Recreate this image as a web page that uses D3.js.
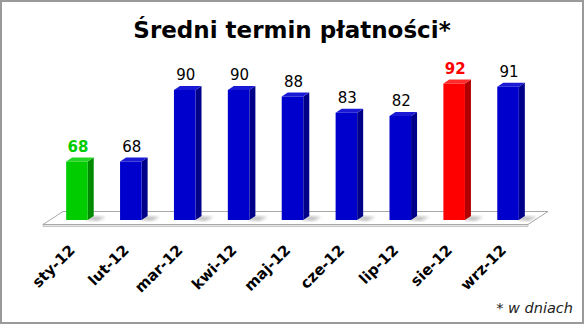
<!DOCTYPE html>
<html>
<head>
<meta charset="utf-8">
<script src="https://cdn.jsdelivr.net/npm/d3@7"></script>
<style>
  body { margin: 0; background: #fff; }
  svg { display: block; font-family: "DejaVu Sans", Verdana, sans-serif; }
</style>
</head>
<body>
<script>
const months = ["sty-12", "lut-12", "mar-12", "kwi-12", "maj-12", "cze-12", "lip-12", "sie-12", "wrz-12"];
const days = [68, 68, 90, 90, 88, 83, 82, 92, 91];
// which bar is highlighted: "min", "max" or plain
const highlight = ["min", "", "", "", "", "", "", "max", ""];

const width = 585, height = 325;
const depth = {x: 6, y: -4};          // bar depth offset
const floorFront = {x: -7, y: 4.5}, floorBack = {x: 13, y: -8.5};

const palette = {
  "":   {front: "#0000cc", side: "#000088", top: "#1a1ad6", label: "#000", weight: "normal"},
  min:  {front: "#00cc00", side: "#008a00", top: "#22d622", label: "#00cc00", weight: "bold"},
  max:  {front: "#ff0000", side: "#b00000", top: "#ff2a2a", label: "#ff0000", weight: "bold"}
};

const svg = d3.select("body").append("svg").attr("width", width).attr("height", height);

svg.append("rect").attr("x", 1).attr("y", 1).attr("width", width - 3).attr("height", height - 3)
  .attr("fill", "#fff").attr("stroke", "#9a9a9a").attr("stroke-width", 2);

const defs = svg.append("defs");
defs.append("filter").attr("id", "blur").append("feGaussianBlur").attr("stdDeviation", 1.6);

svg.append("text").attr("x", 292).attr("y", 38).attr("text-anchor", "middle")
  .attr("font-size", 23).attr("font-weight", "bold").text("Średni termin płatności*");

const x = d3.scaleBand().domain(months).range([50, 535]).paddingInner(0.6).paddingOuter(0.3);
const y = d3.scaleLinear().domain([50, 100]).range([220, 57.5]);

const r0 = x.range()[0], r1 = x.range()[1], base = y(50);

// floor slab
const floor = [[r0 + floorFront.x, base + floorFront.y], [r1 + floorFront.x, base + floorFront.y],
               [r1 + floorBack.x, base + floorBack.y], [r0 + floorBack.x, base + floorBack.y]];
svg.append("rect").attr("x", r0 + floorFront.x).attr("y", base + floorFront.y)
  .attr("width", r1 - r0).attr("height", 2).attr("fill", "#e6e6e6").attr("stroke", "#a8a8a8").attr("stroke-width", 0.6);
svg.append("polygon").attr("points", floor.map(p => p.join(",")).join(" "))
  .attr("fill", "#fff").attr("stroke", "#a8a8a8").attr("stroke-width", 1);

const bw = x.bandwidth();

// shadows on the floor
svg.append("g").selectAll("polygon").data(months).join("polygon")
  .attr("points", m => {
    const x0 = x(m) + bw, b = base;
    return [[x0 - 2, b], [x0 + depth.x - 1, b + depth.y], [x0 + depth.x + 12, b + depth.y + 1], [x0 + 10, b + 1]]
      .map(p => p.join(",")).join(" ");
  })
  .attr("fill", "#8c8c8c").attr("opacity", 0.55).attr("filter", "url(#blur)");

const bars = svg.append("g").selectAll("g").data(months).join("g");

bars.append("polygon").attr("points", (m, i) => {
    const x1 = x(m) + bw, t = y(days[i]);
    return [[x1, t], [x1 + depth.x, t + depth.y], [x1 + depth.x, base + depth.y], [x1, base]].map(p => p.join(",")).join(" ");
  })
  .attr("fill", (m, i) => palette[highlight[i]].side);

bars.append("polygon").attr("points", (m, i) => {
    const x0 = x(m), t = y(days[i]);
    return [[x0, t], [x0 + bw, t], [x0 + bw + depth.x, t + depth.y], [x0 + depth.x, t + depth.y]].map(p => p.join(",")).join(" ");
  })
  .attr("fill", (m, i) => palette[highlight[i]].top);

bars.append("rect")
  .attr("x", m => x(m)).attr("y", (m, i) => y(days[i]))
  .attr("width", bw).attr("height", (m, i) => base - y(days[i]))
  .attr("fill", (m, i) => palette[highlight[i]].front);

bars.append("text")
  .attr("x", m => x(m) + bw / 2 + 1).attr("y", (m, i) => y(days[i]) - 10)
  .attr("text-anchor", "middle").attr("font-size", 15)
  .attr("font-weight", (m, i) => palette[highlight[i]].weight)
  .attr("fill", (m, i) => palette[highlight[i]].label)
  .text((m, i) => days[i]);

// rotated category labels
svg.append("g").selectAll("text").data(months).join("text")
  .attr("transform", m => `translate(${x(m) + bw / 2 - 1},251) rotate(-45)`)
  .attr("text-anchor", "end").attr("font-size", 15).attr("font-weight", "bold")
  .text(m => m);

svg.append("text").attr("x", 573).attr("y", 313).attr("text-anchor", "end")
  .attr("font-size", 14.5).attr("font-style", "italic").attr("fill", "#222")
  .text("* w dniach");
</script>
</body>
</html>
